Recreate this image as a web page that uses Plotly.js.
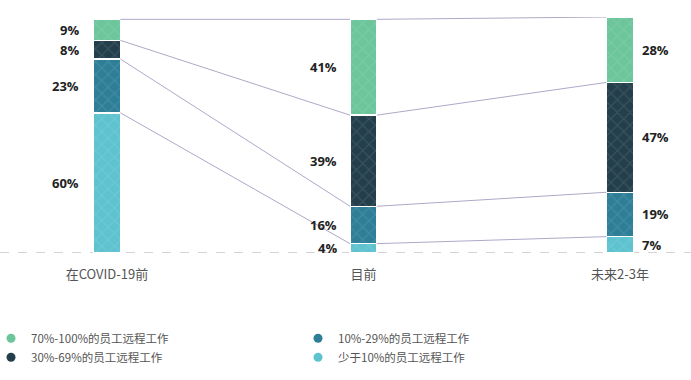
<!DOCTYPE html>
<html>
<head>
<meta charset="utf-8">
<script src="https://cdn.plot.ly/plotly-3.0.1.min.js"></script>
<style>html,body{margin:0;padding:0;background:#fff;}#chart{width:691px;height:380px;}</style>
</head>
<body>
<div id="chart"></div>
<script>
const categories = ['在COVID-19前', '目前', '未来2-3年'];
const seriesNames = ['少于10%的员工远程工作', '10%-29%的员工远程工作', '30%-69%的员工远程工作', '70%-100%的员工远程工作'];
const lessThan10 = [60, 4, 7];
const pct10to29 = [23, 16, 19];
const pct30to69 = [8, 39, 47];
const pct70to100 = [9, 41, 28];
const colors = ['#5ec2cf', '#2e7e98', '#243f4c', '#6cc59b'];
const legendRanks = [4, 2, 3, 1];

const series = [lessThan10, pct10to29, pct30to69, pct70to100];
const xs = categories.map((c, i) => i);
const barWidth = 0.105;

const traces = [];
series.forEach((vals, s) => {
  traces.push({
    type: 'bar', x: xs, y: vals, width: barWidth, name: seriesNames[s],
    marker: {color: colors[s], line: {color: '#ffffff', width: 1.5},
      pattern: {shape: 'x', fillmode: 'overlay', fgcolor: '#ffffff', fgopacity: 0.1, size: 9, solidity: 0.25}},
    showlegend: false, hoverinfo: 'skip'
  });
});

// cumulative boundaries
const cum = xs.map(i => {
  const arr = [0];
  let t = 0;
  series.forEach(v => { t += v[i]; arr.push(t); });
  return arr;
});

// connector lines
for (let i = 0; i < xs.length - 1; i++) {
  for (let k = 1; k <= series.length; k++) {
    traces.push({
      type: 'scatter', mode: 'lines', x: [xs[i] + barWidth / 2, xs[i + 1] - barWidth / 2],
      y: [cum[i][k], cum[i + 1][k]], line: {color: '#aea8c8', width: 1},
      showlegend: false, hoverinfo: 'skip'
    });
  }
}

// legend entries (circles)
series.forEach((vals, s) => {
  traces.push({
    type: 'scatter', mode: 'markers', x: [null], y: [null], name: seriesNames[s],
    marker: {color: colors[s], size: 9, symbol: 'circle'}, legendrank: legendRanks[s]
  });
});

const annotations = [];
xs.forEach(i => {
  series.forEach((vals, s) => {
    const right = i === xs.length - 1;
    annotations.push({
      x: i, y: cum[i][s] + vals[i] / 2, xref: 'x', yref: 'y',
      text: vals[i] + '%', showarrow: false,
      xanchor: right ? 'left' : 'right', yanchor: 'middle',
      xshift: right ? 20 : (i === 0 ? -26 : -24),
      font: {family: 'Open Sans, sans-serif', size: 13, color: '#222222', weight: 'bold'}
    });
  });
});

const layout = {
  width: 691, height: 380,
  margin: {l: 0, r: 0, t: 17, b: 127, autoexpand: false},
  paper_bgcolor: '#ffffff', plot_bgcolor: '#ffffff',
  barmode: 'stack', bargap: 0,
  xaxis: {range: [-0.417, 2.277], tickvals: xs, ticktext: categories, showgrid: false, zeroline: false,
    showline: false, ticks: 'outside', ticklen: 9, tickcolor: 'rgba(0,0,0,0)',
    tickfont: {family: 'Noto Sans CJK SC, sans-serif', size: 13, color: '#555555'}, fixedrange: true},
  yaxis: {range: [0, 101], visible: false, fixedrange: true},
  shapes: [{type: 'line', xref: 'paper', x0: 0, x1: 1, yref: 'y', y0: 0, y1: 0,
    line: {color: '#aaaaaa', width: 1, dash: 'dash'}, layer: 'below'}],
  annotations: annotations,
  showlegend: true,
  legend: {orientation: 'h', x: -0.013, xanchor: 'left', y: -0.30, yanchor: 'top',
    entrywidth: 262, entrywidthmode: 'pixels', traceorder: 'normal', tracegroupgap: 0,
    font: {family: 'Noto Sans CJK SC, sans-serif', size: 11.5, color: '#555555'}, itemwidth: 30}
};

Plotly.newPlot('chart', traces, layout, {displayModeBar: false, staticPlot: true});
</script>
</body>
</html>
